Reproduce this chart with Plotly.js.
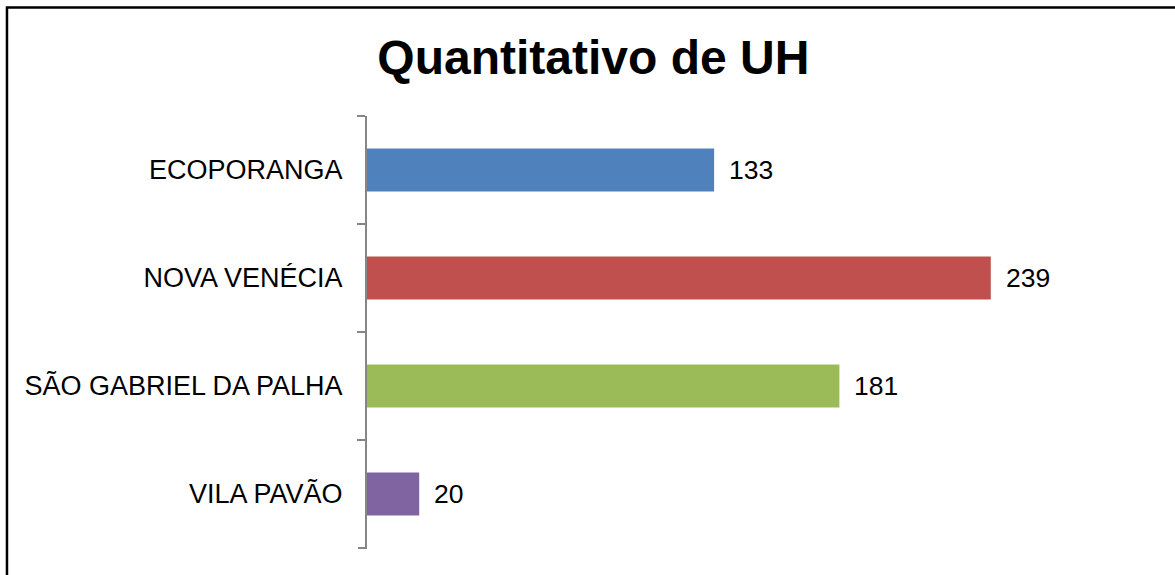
<!DOCTYPE html>
<html>
<head>
<meta charset="utf-8">
<script src="https://cdn.plot.ly/plotly-3.0.1.min.js"></script>
<style>
	html, body { margin: 0; padding: 0; background: #fff; }
	#plot { width: 1175px; height: 575px; }
</style>
</head>
<body>
<div id="plot"></div>
<script>
	// municipios e quantidade de UH
	const municipios = ['ECOPORANGA', 'NOVA VENÉCIA', 'SÃO GABRIEL DA PALHA', 'VILA PAVÃO'];
	const quantidades = [133, 239, 181, 20];
	const cores = ['#4F81BD', '#C0504D', '#9BBB59', '#8064A2'];

	const fonte = 'Liberation Sans, Arial, sans-serif';

	const trace = {
		type: 'bar',
		orientation: 'h',
		x: quantidades,
		y: municipios,
		marker: {color: cores},
		hoverinfo: 'x+y',
		showlegend: false
	};

	// rótulos de valor à direita das barras
	const rotulos = municipios.map((m, i) => ({
		x: quantidades[i], y: m,
		xref: 'x', yref: 'y',
		text: String(quantidades[i]),
		showarrow: false,
		xanchor: 'left', yanchor: 'middle',
		xshift: 13,
		font: {family: fonte, size: 26.5, color: '#000'}
	}));

	const layout = {
		width: 1175,
		height: 575,
		margin: {l: 367, r: 25, t: 116, b: 27},
		paper_bgcolor: '#fff',
		plot_bgcolor: '#fff',
		title: {
			text: '<b>Quantitativo de UH</b>',
			font: {family: fonte, size: 48, color: '#000'},
			xref: 'container', x: 0.505, xanchor: 'center',
			yref: 'container', y: 0.9, yanchor: 'middle'
		},
		bargap: 0.6,
		xaxis: {
			range: [0, 300],
			visible: false,
			showgrid: false,
			zeroline: false
		},
		yaxis: {
			range: [3.5, -0.5],
			showline: true,
			linecolor: '#868686',
			linewidth: 2,
			ticks: 'outside',
			tickson: 'boundaries',
			ticklen: 8,
			tickwidth: 2,
			tickcolor: '#868686',
			ticklabelstandoff: 17,
			showgrid: false,
			tickfont: {family: fonte, size: 27, color: '#000'}
		},
		annotations: rotulos,
		shapes: [{
			// tique da borda inferior (o Plotly omite o último)
			type: 'line', xref: 'paper', yref: 'paper',
			x0: -0.0115, x1: 0, y0: 0, y1: 0,
			line: {color: '#868686', width: 2},
			layer: 'above'
		}, {
			// moldura do gráfico
			type: 'rect', xref: 'paper', yref: 'paper',
			x0: -0.4598, x1: 1.2, y0: -0.2, y1: 1.2512,
			line: {color: '#000', width: 2.5},
			fillcolor: 'rgba(0,0,0,0)',
			layer: 'above'
		}]
	};

	Plotly.newPlot('plot', [trace], layout, {displayModeBar: false, staticPlot: true});
</script>
</body>
</html>
